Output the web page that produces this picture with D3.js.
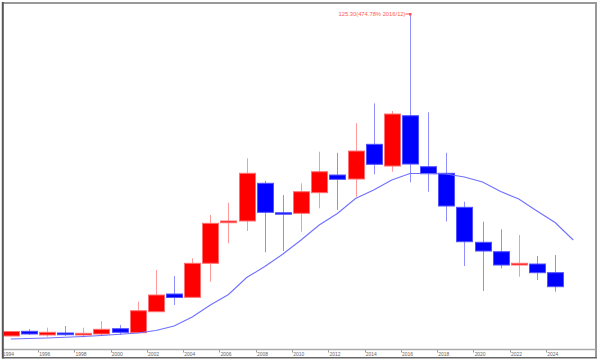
<!DOCTYPE html>
<html>
<head>
<meta charset="utf-8">
<script src="https://cdn.jsdelivr.net/npm/d3@7/dist/d3.min.js"></script>
<style>
html,body{margin:0;padding:0;background:#fff;}
svg{display:block;}
</style>
</head>
<body>
<svg id="chart" width="600" height="363"></svg>
<script>
// ---- data ----
const years = [1994,1995,1996,1997,1998,1999,2000,2001,2002,2003,2004,2005,2006,2007,2008,2009,2010,2011,2012,2013,2014,2015,2016,2017,2018,2019,2020,2021,2022,2023,2024];
const opens  = [22.22,23.72,22.54,23.18,22.54,22.86,24.55,23.27,29.99,35.66,34.60,45.49,58.48,59.03,71.10,61.68,61.49,68.09,73.75,72.47,83.58,76.63,92.73,76.41,74.30,63.41,52.21,49.20,44.94,45.26,42.48];
const highs  = [23.82,24.46,24.87,25.42,24.87,27.02,25.74,33.20,43.34,41.42,47.09,60.95,64.89,79.10,71.93,67.35,71.10,81.21,80.89,90.30,96.70,94.24,125.30,93.82,80.89,65.21,58.80,56.37,54.55,47.82,48.14];
const lows   = [22.12,22.54,21.99,22.22,21.80,22.54,22.54,23.18,29.90,32.14,34.54,39.60,51.89,55.83,49.01,49.42,55.60,63.09,62.55,66.81,73.98,74.81,71.42,68.41,58.87,44.62,36.62,43.89,41.20,40.14,36.40];
const closes = [23.66,22.86,23.40,22.63,23.08,24.36,23.40,30.31,35.34,34.54,45.49,58.29,59.03,74.30,61.81,61.36,68.41,74.81,72.38,81.43,77.18,93.28,77.27,74.17,63.83,52.40,49.42,44.94,45.49,42.48,38.00];
const maYears = [1994,1995,1996,1997,1998,1999,2000,2001,2002,2003,2004,2005,2006,2007,2008,2009,2010,2011,2012,2013,2014,2015,2016,2017,2018,2019,2020,2021,2022,2023,2024,2025];
const maValues = [21.26,21.42,21.58,21.80,22.06,22.38,22.76,23.18,23.98,25.42,28.30,32.14,35.50,40.94,44.46,48.46,52.95,57.75,61.43,66.23,68.95,72.15,74.23,74.23,74.07,73.11,71.51,68.47,66.07,62.23,58.55,52.95];
const tickYears = [1994,1996,1998,2000,2002,2004,2006,2008,2010,2012,2014,2016,2018,2020,2022,2024];
const peakLabel = "125.30(474.78% 2016/12)";
const peakYear = 2016;
const peakValue = 125.30;

// ---- layout ----
const svg = d3.select("#chart");
const plot = {left:3, top:3, right:596, bottom:349};

const x = d3.scaleLinear().domain([1994, 2026]).range([1.7, 582.3]);
const y = d3.scaleLinear().domain([21.8, 125.3]).range([337.3, 14]);
const bodyW = 16;

const defs = svg.append("defs");
defs.append("clipPath").attr("id","plotclip")
  .append("rect").attr("x",plot.left).attr("y",plot.top)
  .attr("width",plot.right-plot.left).attr("height",plot.bottom-plot.top);
defs.append("clipPath").attr("id","axisclip")
  .append("rect").attr("x",4.2).attr("y",349).attr("width",590).attr("height",9);

const g = svg.append("g").attr("clip-path","url(#plotclip)");

const candles = years.map((yr,i)=>({year:yr,o:opens[i],h:highs[i],l:lows[i],c:closes[i]}));

// wicks
g.selectAll("line.wick").data(candles).enter().append("line")
  .attr("class","wick")
  .attr("x1",d=>Math.round(x(d.year+0.5))+0.5)
  .attr("x2",d=>Math.round(x(d.year+0.5))+0.5)
  .attr("y1",d=>y(d.h)).attr("y2",d=>y(d.l))
  .attr("stroke",d=>d.c>=d.o?"#ff9a9a":"#8f8fff")
  .attr("stroke-width",1);

// bodies
g.selectAll("rect.body").data(candles).enter().append("rect")
  .attr("class","body")
  .attr("x",d=>Math.round(x(d.year+0.5))+0.5-bodyW/2)
  .attr("y",d=>y(Math.max(d.o,d.c)))
  .attr("width",bodyW)
  .attr("height",d=>Math.max(1.5,Math.abs(y(d.o)-y(d.c))))
  .attr("fill",d=>d.c>=d.o?"#ff0000":"#0000ff")
  .attr("stroke",d=>d.c>=d.o?"#ff7070":"#5050ff")
  .attr("stroke-width",1);

// moving average
const ma = maYears.map((yr,i)=>({year:yr,v:maValues[i]}));
g.append("path").datum(ma)
  .attr("d",d3.line().x(d=>x(d.year+0.5)).y(d=>y(d.v)))
  .attr("fill","none").attr("stroke","#7070ff").attr("stroke-width",1.1);

// peak annotation
const px = Math.round(x(peakYear+0.5))+0.5, py = y(peakValue);
g.append("line").attr("x1",px-5).attr("x2",px).attr("y1",py).attr("y2",py)
  .attr("stroke","#ff5050").attr("stroke-width",1);
g.append("rect").attr("x",px-1.5).attr("y",py-1).attr("width",2.5).attr("height",2.5).attr("fill","#ff5050");
g.append("text").attr("x",px-72).attr("y",py+2)
  .attr("textLength",67).attr("lengthAdjust","spacingAndGlyphs")
  .attr("font-family","Liberation Sans, Arial, sans-serif").attr("font-size",6)
  .attr("fill","#ff5a5a").text(peakLabel);

// x axis labels strip
const axisG = svg.append("g").attr("clip-path","url(#axisclip)");
axisG.selectAll("line.tk").data(tickYears).enter().append("line")
  .attr("x1",d=>Math.round(x(d))+0.5).attr("x2",d=>Math.round(x(d))+0.5)
  .attr("y1",350).attr("y2",352.5).attr("stroke","#888").attr("stroke-width",0.8);
axisG.selectAll("text.tl").data(tickYears).enter().append("text")
  .attr("x",d=>x(d)+1.2).attr("y",355.5)
  .attr("textLength",11).attr("lengthAdjust","spacingAndGlyphs")
  .attr("font-family","Liberation Sans, Arial, sans-serif").attr("font-size",5.5)
  .attr("fill","#666").text(d=>d);

// frame
svg.append("line").attr("x1",2).attr("x2",597).attr("y1",3).attr("y2",3).attr("stroke","#999").attr("stroke-width",2);
svg.append("line").attr("x1",596).attr("x2",596).attr("y1",2).attr("y2",358).attr("stroke","#999").attr("stroke-width",2);
svg.append("line").attr("x1",3).attr("x2",596).attr("y1",349.5).attr("y2",349.5).attr("stroke","#aaa").attr("stroke-width",1.5);
svg.append("line").attr("x1",2).attr("x2",597).attr("y1",357.8).attr("y2",357.8).attr("stroke","#666").attr("stroke-width",1.6);
svg.append("line").attr("x1",2.8).attr("x2",2.8).attr("y1",2).attr("y2",358.5).attr("stroke","#555").attr("stroke-width",2);
</script>
</body>
</html>
